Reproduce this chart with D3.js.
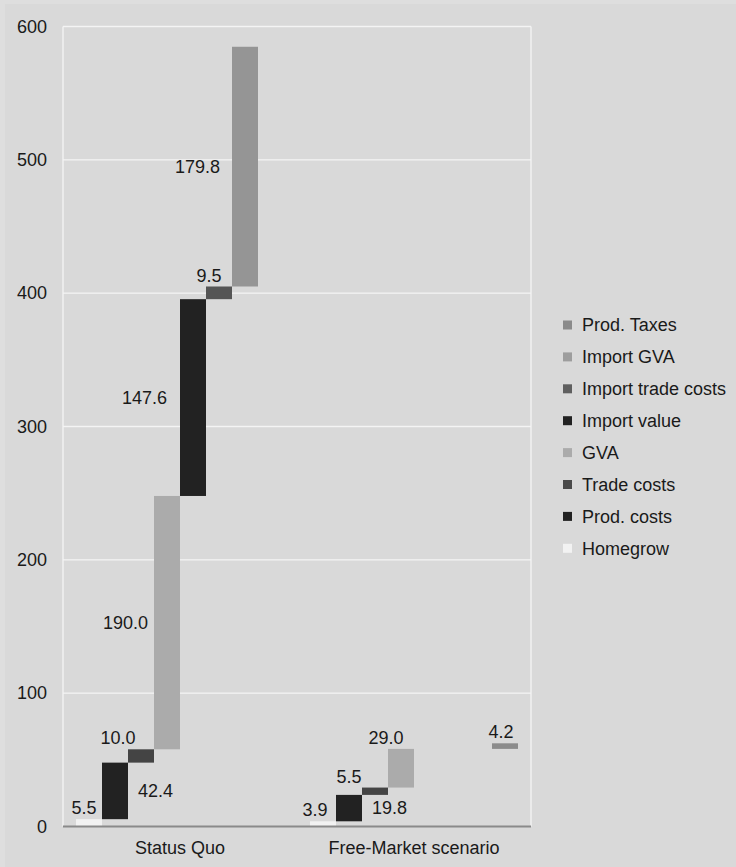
<!DOCTYPE html>
<html>
<head>
<meta charset="utf-8">
<script src="https://cdn.jsdelivr.net/npm/d3@7"></script>
<style>
  html, body { margin: 0; padding: 0; background: #dedede; }
  svg { display: block; }
  text { font-family: "Liberation Sans", Arial, sans-serif; fill: #1a1a1a; }
</style>
</head>
<body>
<svg id="chart" width="736" height="867"></svg>
<script>
// Waterfall components, stacked from zero in this order
const categories = ["Status Quo", "Free-Market scenario"];
const series = ["Homegrow", "Prod. costs", "Trade costs", "GVA",
                "Import value", "Import trade costs", "Import GVA", "Prod. Taxes"];
const statusQuo   = [5.5, 42.4, 10.0, 190.0, 147.6, 9.5, 179.8, 0];
const freeMarket  = [3.9, 19.8, 5.5, 29.0, 0, 0, 0, 4.2];
const yTicks = [0, 100, 200, 300, 400, 500, 600];

// Where each value label sits relative to its bar, and a small horizontal nudge
const labelSide = {
  "Status Quo":           ["top", "right", "top", "left", "left", "top", "left", "top"],
  "Free-Market scenario": ["top", "right", "top", "top", "left", "top", "left", "top"]
};
const labelNudge = {
  "Status Quo":           [-5, 0, -23, 0, -7, -10, -6, 0],
  "Free-Market scenario": [-8, 0, -26, -15, 0, 0, 0, -4]
};

const colors = ["#f2f2f2", "#222222", "#444444", "#ababab",
                "#222222", "#555555", "#959595", "#8c8c8c"];
const legendColors = ["#f2f2f2", "#222222", "#4a4a4a", "#ababab",
                      "#222222", "#5f5f5f", "#9d9d9d", "#8a8a8a"];

const valuesByCat = [statusQuo, freeMarket];
const FS = 18;

const svg = d3.select("#chart");
const W = 736, H = 867;
const plot = { left: 63, right: 531, top: 26.5, bottom: 826.5 };

// chart area background, inset slightly from the page edge
svg.append("rect").attr("x", 5).attr("y", 4).attr("width", W - 5).attr("height", H - 4)
   .attr("fill", "#d9d9d9");

const x = d3.scaleBand().domain(categories).range([plot.left, plot.right]).padding(0);
const xs = d3.scaleBand().domain(series).range([0, x.bandwidth()]).paddingInner(0).paddingOuter(0.5);
const y = d3.scaleLinear().domain([0, 600]).range([plot.bottom, plot.top]);

// gridlines
svg.append("g").selectAll("line").data(yTicks.filter(t => t > 0)).join("line")
  .attr("x1", plot.left).attr("x2", plot.right)
  .attr("y1", d => y(d)).attr("y2", d => y(d))
  .attr("stroke", "#f4f4f4").attr("stroke-width", 1.3);

// plot side borders
svg.append("line").attr("x1", plot.left).attr("x2", plot.left)
  .attr("y1", y(600)).attr("y2", plot.bottom).attr("stroke", "#f4f4f4").attr("stroke-width", 1.3);
svg.append("line").attr("x1", plot.right).attr("x2", plot.right)
  .attr("y1", y(600)).attr("y2", plot.bottom).attr("stroke", "#f4f4f4").attr("stroke-width", 1.3);

// y axis labels
const yAxis = d3.axisLeft(y).tickValues(yTicks).tickSize(0).tickPadding(16).tickFormat(d3.format("d"));
const yg = svg.append("g").attr("transform", `translate(${plot.left},0)`).call(yAxis);
yg.select(".domain").remove();
yg.selectAll("text").attr("font-size", FS).attr("fill", "#1a1a1a")
  .style("font-family", "'Liberation Sans', Arial, sans-serif");

// build bar records with cumulative bases
const bars = [];
categories.forEach((cat, ci) => {
  let base = 0;
  valuesByCat[ci].forEach((v, si) => {
    bars.push({ cat, series: series[si], si, value: v, y0: base, y1: base + v });
    base += v;
  });
});
const shown = bars.filter(d => d.value > 0);

svg.append("g").selectAll("rect").data(shown).join("rect")
  .attr("x", d => x(d.cat) + xs(d.series))
  .attr("width", xs.bandwidth())
  .attr("y", d => y(d.y1))
  .attr("height", d => y(d.y0) - y(d.y1))
  .attr("fill", d => colors[d.si]);

// x axis line and category labels
svg.append("line").attr("x1", plot.left).attr("x2", plot.right)
  .attr("y1", plot.bottom).attr("y2", plot.bottom)
  .attr("stroke", "#8a8a8a").attr("stroke-width", 2);
const xAxis = d3.axisBottom(x).tickSize(0).tickPadding(15);
const xg = svg.append("g").attr("transform", `translate(0,${plot.bottom})`).call(xAxis);
xg.select(".domain").remove();
xg.selectAll("text").attr("font-size", FS).attr("fill", "#1a1a1a")
  .style("font-family", "'Liberation Sans', Arial, sans-serif");

// value labels
svg.append("g").selectAll("text").data(shown).join("text")
  .attr("font-size", FS)
  .each(function(d) {
    const side = labelSide[d.cat][d.si];
    const nudge = labelNudge[d.cat][d.si];
    const bx = x(d.cat) + xs(d.series);
    const bw = xs.bandwidth();
    const t = d3.select(this).text(d3.format(".1f")(d.value));
    if (side === "top") {
      t.attr("x", bx + bw / 2 + nudge).attr("y", y(d.y1) - 5).attr("text-anchor", "middle");
    } else if (side === "left") {
      t.attr("x", bx - 6 + nudge).attr("y", y((d.y0 + d.y1) / 2)).attr("dy", "0.35em")
       .attr("text-anchor", "end");
    } else {
      t.attr("x", bx + bw + 10 + nudge).attr("y", y((d.y0 + d.y1) / 2)).attr("dy", "0.35em")
       .attr("text-anchor", "start");
    }
  });

// legend, listed top-down in reverse stacking order
const legendOrder = d3.range(series.length).reverse();
const lg = svg.append("g").attr("transform", "translate(563,325)");
const item = lg.selectAll("g").data(legendOrder).join("g")
  .attr("transform", (d, i) => `translate(0,${i * 31.9})`);
item.append("rect").attr("x", 0).attr("y", -4.5).attr("width", 9).attr("height", 9)
  .attr("fill", d => legendColors[d]);
item.append("text").attr("x", 19).attr("y", 0).attr("dy", "0.35em")
  .attr("font-size", FS).text(d => series[d]);
</script>
</body>
</html>
